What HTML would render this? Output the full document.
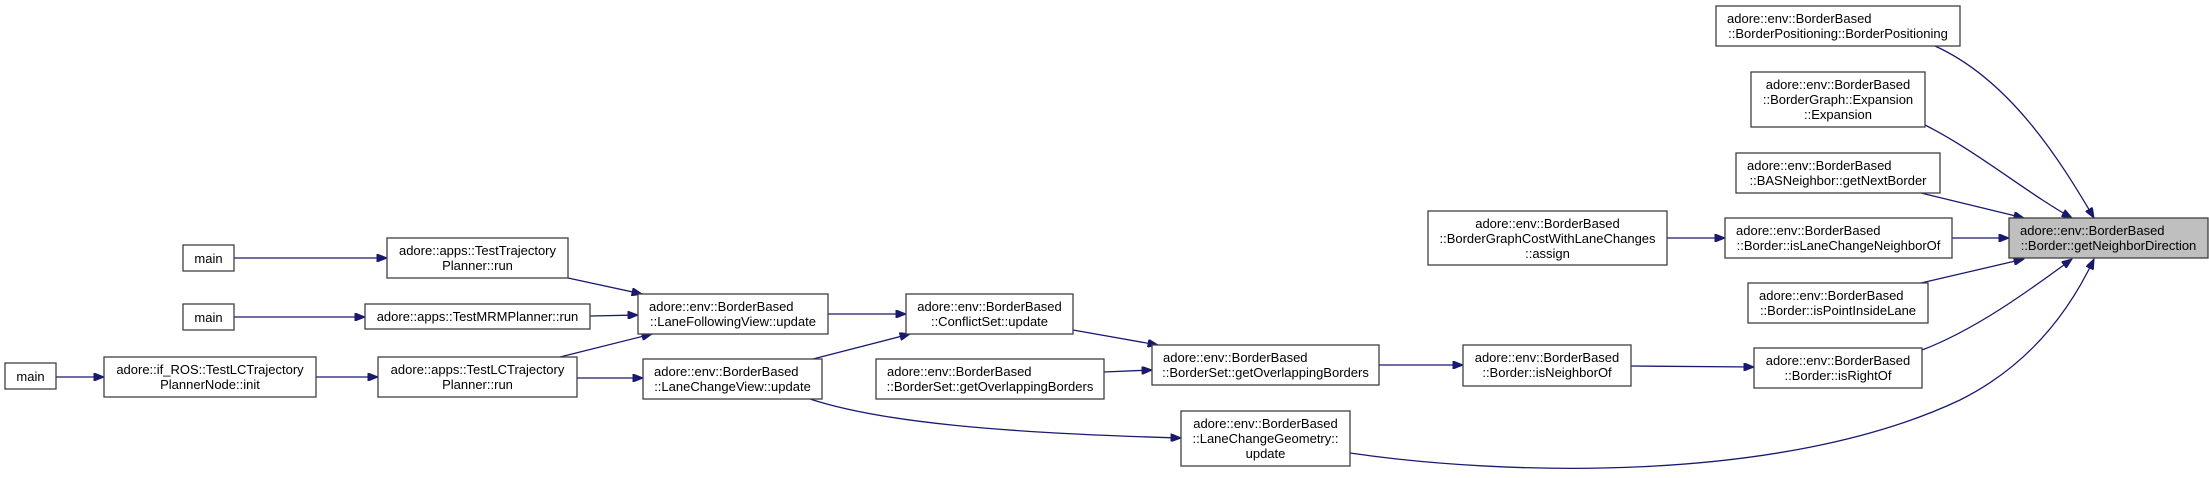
<!DOCTYPE html>
<html><head><meta charset="utf-8"><style>
html,body{margin:0;padding:0;background:#fff;}
svg{display:block;}
text{font-family:"Liberation Sans",Arial,sans-serif;font-size:13px;fill:#000;}
rect{fill:#fff;stroke:#404040;stroke-width:1.3;}
.e{fill:none;stroke:#191970;stroke-width:1.3;}
</style></head><body>
<svg width="2209" height="478" viewBox="0 0 2209 478" xmlns="http://www.w3.org/2000/svg">
<defs><marker id="a" viewBox="0 0 10 8" refX="10" refY="4" markerWidth="11" markerHeight="8" markerUnits="userSpaceOnUse" orient="auto"><path d="M0,0 L10,4 L0,8 z" fill="#191970" stroke="#191970"/></marker></defs>

<path class="e" marker-end="url(#a)" d="M234,258 L387,258"/>
<path class="e" marker-end="url(#a)" d="M234,317 L365,317"/>
<path class="e" marker-end="url(#a)" d="M56,377 L104,377"/>
<path class="e" marker-end="url(#a)" d="M316,377 L378,377"/>
<path class="e" marker-end="url(#a)" d="M568,278 L642,294"/>
<path class="e" marker-end="url(#a)" d="M590,316 L638,315"/>
<path class="e" marker-end="url(#a)" d="M560,357 L652,334"/>
<path class="e" marker-end="url(#a)" d="M577,378 L643,378"/>
<path class="e" marker-end="url(#a)" d="M828,314 L906,314"/>
<path class="e" marker-end="url(#a)" d="M813,359 L910,334"/>
<path class="e" marker-end="url(#a)" d="M1073,330 L1158,345"/>
<path class="e" marker-end="url(#a)" d="M1104,372 L1152,370"/>
<path class="e" marker-end="url(#a)" d="M810,399 C880,422 1000,433 1181,438"/>
<path class="e" marker-end="url(#a)" d="M1379,365 L1463,365"/>
<path class="e" marker-end="url(#a)" d="M1631,366 L1754,367"/>
<path class="e" marker-end="url(#a)" d="M1667,238 L1725,238"/>
<path class="e" marker-end="url(#a)" d="M1952,238 L2009,238"/>
<path class="e" marker-end="url(#a)" d="M1921,193 L2024,218"/>
<path class="e" marker-end="url(#a)" d="M1921,283 L2024,259"/>
<path class="e" marker-end="url(#a)" d="M1935,46 C2010,80 2060,160 2094,218"/>
<path class="e" marker-end="url(#a)" d="M1925,125 C1975,150 2030,195 2072,218"/>
<path class="e" marker-end="url(#a)" d="M1922,350 C1975,330 2030,290 2072,259"/>
<path class="e" marker-end="url(#a)" d="M1350,453 C1500,475 1780,485 1960,400 C2030,365 2070,310 2094,259"/>

<rect x="5" y="363" width="51" height="26"/><text x="30.5" y="381" text-anchor="middle">main</text>
<rect x="183" y="245" width="51" height="26"/><text x="208.5" y="263" text-anchor="middle">main</text>
<rect x="183" y="304" width="51" height="26"/><text x="208.5" y="322" text-anchor="middle">main</text>

<rect x="104" y="357" width="212" height="40"/><text x="210" y="374" text-anchor="middle">adore::if_ROS::TestLCTrajectory</text><text x="210" y="389" text-anchor="middle">PlannerNode::init</text>

<rect x="387" y="238" width="181" height="40"/><text x="477.5" y="255" text-anchor="middle">adore::apps::TestTrajectory</text><text x="477.5" y="270" text-anchor="middle">Planner::run</text>
<rect x="365" y="304" width="225" height="25"/><text x="477.5" y="321" text-anchor="middle">adore::apps::TestMRMPlanner::run</text>
<rect x="378" y="357" width="199" height="40"/><text x="477.5" y="374" text-anchor="middle">adore::apps::TestLCTrajectory</text><text x="477.5" y="389" text-anchor="middle">Planner::run</text>

<rect x="638" y="294" width="190" height="40"/><text x="649" y="311">adore::env::BorderBased</text><text x="733" y="326" text-anchor="middle">::LaneFollowingView::update</text>
<rect x="643" y="359" width="179" height="40"/><text x="654" y="376">adore::env::BorderBased</text><text x="732.5" y="391" text-anchor="middle">::LaneChangeView::update</text>

<rect x="906" y="294" width="167" height="40"/><text x="989.5" y="311" text-anchor="middle">adore::env::BorderBased</text><text x="989.5" y="326" text-anchor="middle">::ConflictSet::update</text>
<rect x="876" y="359" width="228" height="40"/><text x="887" y="376">adore::env::BorderBased</text><text x="990" y="391" text-anchor="middle">::BorderSet::getOverlappingBorders</text>
<rect x="1152" y="345" width="227" height="40"/><text x="1163" y="362">adore::env::BorderBased</text><text x="1265.5" y="377" text-anchor="middle">::BorderSet::getOverlappingBorders</text>
<rect x="1181" y="411" width="169" height="55"/><text x="1265.5" y="428" text-anchor="middle">adore::env::BorderBased</text><text x="1265.5" y="443" text-anchor="middle">::LaneChangeGeometry::</text><text x="1265.5" y="458" text-anchor="middle">update</text>

<rect x="1428" y="211" width="239" height="54"/><text x="1547.5" y="228" text-anchor="middle">adore::env::BorderBased</text><text x="1547.5" y="243" text-anchor="middle">::BorderGraphCostWithLaneChanges</text><text x="1547.5" y="258" text-anchor="middle">::assign</text>
<rect x="1463" y="345" width="168" height="41"/><text x="1547" y="362" text-anchor="middle">adore::env::BorderBased</text><text x="1547" y="377" text-anchor="middle">::Border::isNeighborOf</text>

<rect x="1716" y="6" width="244" height="40"/><text x="1727" y="23">adore::env::BorderBased</text><text x="1838" y="38" text-anchor="middle">::BorderPositioning::BorderPositioning</text>
<rect x="1751" y="72" width="174" height="55"/><text x="1838" y="89" text-anchor="middle">adore::env::BorderBased</text><text x="1838" y="104" text-anchor="middle">::BorderGraph::Expansion</text><text x="1838" y="119" text-anchor="middle">::Expansion</text>
<rect x="1736" y="153" width="204" height="40"/><text x="1747" y="170">adore::env::BorderBased</text><text x="1838" y="185" text-anchor="middle">::BASNeighbor::getNextBorder</text>
<rect x="1725" y="218" width="227" height="40"/><text x="1736" y="235">adore::env::BorderBased</text><text x="1838.5" y="250" text-anchor="middle">::Border::isLaneChangeNeighborOf</text>
<rect x="1748" y="283" width="180" height="40"/><text x="1759" y="300">adore::env::BorderBased</text><text x="1838" y="315" text-anchor="middle">::Border::isPointInsideLane</text>
<rect x="1754" y="348" width="168" height="40"/><text x="1838" y="365" text-anchor="middle">adore::env::BorderBased</text><text x="1838" y="380" text-anchor="middle">::Border::isRightOf</text>

<rect x="2009" y="218" width="199" height="40" style="fill:#bfbfbf"/><text x="2020" y="235">adore::env::BorderBased</text><text x="2108.5" y="250" text-anchor="middle">::Border::getNeighborDirection</text>
</svg>
</body></html>
